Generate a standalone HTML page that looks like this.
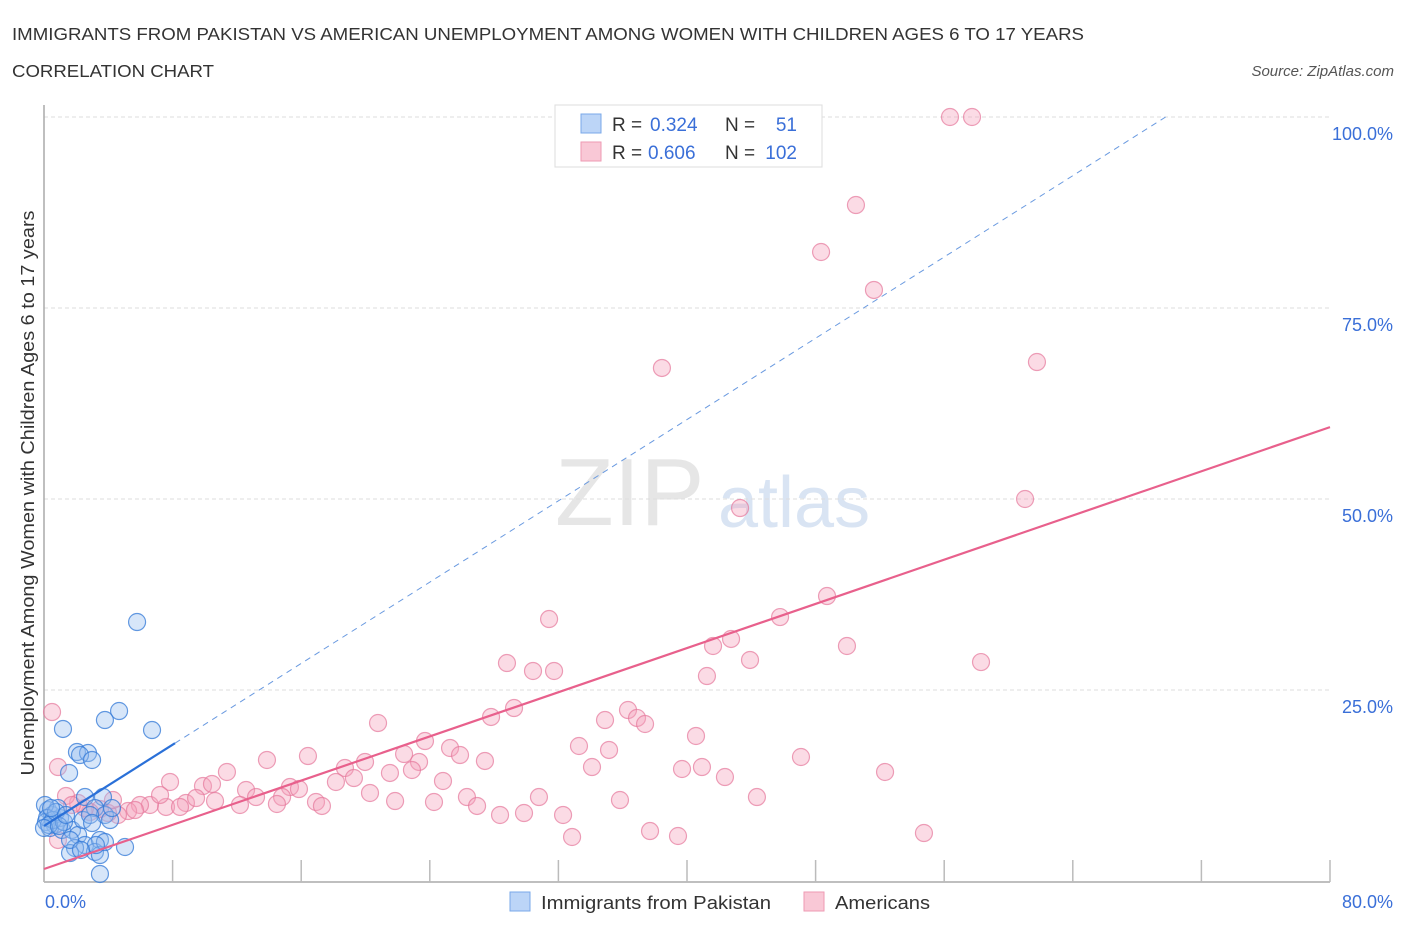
<!DOCTYPE html>
<html><head><meta charset="utf-8"><style>
body{margin:0;background:#fff;font-family:"Liberation Sans",sans-serif;}
svg text{font-family:"Liberation Sans",sans-serif;}
</style></head><body>
<svg id="chart" width="1406" height="930" xmlns="http://www.w3.org/2000/svg">
<text x="12" y="40" font-size="17.5" fill="#333" textLength="1072" lengthAdjust="spacingAndGlyphs">IMMIGRANTS FROM PAKISTAN VS AMERICAN UNEMPLOYMENT AMONG WOMEN WITH CHILDREN AGES 6 TO 17 YEARS</text>
<text x="12" y="77" font-size="17.5" fill="#333" textLength="202" lengthAdjust="spacingAndGlyphs">CORRELATION CHART</text>
<text x="1394" y="76" font-size="15" fill="#555" text-anchor="end" font-style="italic">Source: ZipAtlas.com</text>
<text x="555" y="525" font-size="96" fill="#e6e6e6" font-family="Liberation Serif">ZIP</text>
<text x="718" y="527" font-size="72" fill="#d9e4f3">atlas</text>
<g id="grid"></g>
<g id="axes"></g>
<g id="marks"></g>
<text transform="translate(34,493) rotate(-90)" font-size="18" fill="#333" text-anchor="middle" textLength="565" lengthAdjust="spacingAndGlyphs">Unemployment Among Women with Children Ages 6 to 17 years</text>
<text x="45" y="908" font-size="18" fill="#3a6fd8">0.0%</text>
<text x="1393" y="908" font-size="18" fill="#3a6fd8" text-anchor="end">80.0%</text>
<g>
<rect x="555" y="105" width="267" height="62" fill="#fff" stroke="#ddd"/>
<rect x="581" y="114" width="20" height="19" fill="#bcd5f7" stroke="#7aa8e8"/>
<rect x="581" y="142" width="20" height="19" fill="#f9c8d6" stroke="#ee9ab3"/>
<text x="612" y="131" font-size="19" fill="#333">R =</text>
<text x="650" y="131" font-size="19" fill="#3a6fd8">0.324</text>
<text x="725" y="131" font-size="19" fill="#333">N =</text>
<text x="797" y="131" font-size="19" fill="#3a6fd8" text-anchor="end">51</text>
<text x="612" y="159" font-size="19" fill="#333">R =</text>
<text x="648" y="159" font-size="19" fill="#3a6fd8">0.606</text>
<text x="725" y="159" font-size="19" fill="#333">N =</text>
<text x="797" y="159" font-size="19" fill="#3a6fd8" text-anchor="end">102</text>
</g>
<g>
<rect x="510" y="892" width="20" height="19" fill="#bcd5f7" stroke="#7aa8e8"/>
<text x="541" y="909" font-size="18" fill="#333" textLength="230" lengthAdjust="spacingAndGlyphs">Immigrants from Pakistan</text>
<rect x="804" y="892" width="20" height="19" fill="#f9c8d6" stroke="#ee9ab3"/>
<text x="835" y="909" font-size="18" fill="#333" textLength="95" lengthAdjust="spacingAndGlyphs">Americans</text>
</g>
</svg>
<script>
const yTicks=[25,50,75,100];
const yTickLabels=["25.0%","50.0%","75.0%","100.0%"];
const xTicks=[0,8,16,24,32,40,48,56,64,72,80];
const bluePx=[[137,622],[119,711],[105,720],[63,729],[152,730],[77,752],[88,753],[80,755],[92,760],[69,773],[103,797],[85,797],[48,810],[52,815],[46,822],[55,825],[60,818],[50,828],[58,808],[62,830],[45,805],[95,808],[105,815],[110,820],[72,830],[78,835],[85,845],[100,840],[75,848],[70,853],[95,852],[100,855],[105,842],[125,847],[100,874],[83,820],[90,815],[70,840],[47,818],[53,820],[49,825],[56,812],[64,822],[44,828],[51,808],[59,826],[66,815],[92,823],[112,808],[96,845],[81,850]];
const pinkPx=[[950,117],[972,117],[856,205],[821,252],[874,290],[662,368],[1037,362],[1025,499],[740,508],[827,596],[549,619],[780,617],[731,639],[713,646],[847,646],[507,663],[533,671],[554,671],[750,660],[981,662],[707,676],[514,708],[491,717],[628,710],[605,720],[637,718],[645,724],[378,723],[52,712],[425,741],[579,746],[609,750],[696,736],[450,748],[460,755],[308,756],[267,760],[404,754],[365,762],[419,762],[345,768],[485,761],[801,757],[592,767],[682,769],[702,767],[725,777],[885,772],[58,767],[390,773],[412,770],[354,778],[443,781],[227,772],[336,782],[203,786],[212,784],[170,782],[246,790],[290,787],[299,789],[256,797],[316,802],[282,797],[370,793],[467,797],[539,797],[757,797],[620,800],[395,801],[434,802],[186,803],[215,801],[240,805],[166,807],[180,807],[150,805],[140,805],[128,811],[118,815],[108,813],[100,809],[90,812],[78,803],[66,796],[85,808],[135,810],[477,806],[500,815],[524,813],[563,815],[277,804],[322,806],[650,831],[678,836],[924,833],[572,837],[58,840],[72,805],[113,800],[160,795],[196,798]];
const blueX=bluePx.map(p=>+((p[0]-44)/16.075).toFixed(2));
const blueY=bluePx.map(p=>+((881-p[1])/7.64).toFixed(2));
const pinkX=pinkPx.map(p=>+((p[0]-44)/16.075).toFixed(2));
const pinkY=pinkPx.map(p=>+((881-p[1])/7.64).toFixed(2));
const blueTrend=[7.2,1.33];
const pinkTrend=[1.57,0.723];
const NS="http://www.w3.org/2000/svg";
const X=v=>44+v*16.075, Y=v=>881-v*7.64;
function mk(tag,attrs,parent){const e=document.createElementNS(NS,tag);for(const k in attrs)e.setAttribute(k,attrs[k]);document.getElementById(parent).appendChild(e);return e;}
yTicks.forEach((t,i)=>{
 const g=mk('line',{x1:44,x2:1330,y1:Y(t),y2:Y(t),stroke:'#ddd','stroke-dasharray':'4,3'},'grid');
 
 
 const l=mk('text',{x:1393,y:Y(t)+23,'font-size':18,fill:'#3a6fd8','text-anchor':'end'},'axes');
 l.textContent=yTickLabels[i];
 
 
});
const ya=mk('line',{x1:44,x2:44,y1:105,y2:882,stroke:'#aaa','stroke-width':1.5},'axes');


const xa=mk('line',{x1:44,x2:1330,y1:882,y2:882,stroke:'#aaa','stroke-width':1.5},'axes');


xTicks.forEach(t=>{
 const k=mk('line',{x1:X(t),x2:X(t),y1:860,y2:882,stroke:'#bbb','stroke-width':1.5},'axes');
 
 
});
pinkX.forEach((x,i)=>{
 const c=mk('circle',{cx:X(x),cy:Y(pinkY[i]),r:8.5,fill:'rgba(244,160,186,0.38)',stroke:'rgba(230,120,155,0.7)','stroke-width':1.2},'marks');
 
 
});
blueX.forEach((x,i)=>{
 const c=mk('circle',{cx:X(x),cy:Y(blueY[i]),r:8.5,fill:'rgba(150,190,240,0.38)',stroke:'rgba(50,120,215,0.75)','stroke-width':1.2},'marks');
 
 
});
const pl=mk('line',{x1:X(0),y1:Y(pinkTrend[0]),x2:X(80),y2:Y(pinkTrend[0]+pinkTrend[1]*80),stroke:'#e8608c','stroke-width':2.2},'marks');


const xe=(100-blueTrend[0])/blueTrend[1];
const bd=mk('line',{x1:X(8.15),y1:Y(blueTrend[0]+blueTrend[1]*8.15),x2:X(xe),y2:Y(100),stroke:'#6a9ae0','stroke-width':1,'stroke-dasharray':'6,5'},'marks');


const bl=mk('line',{x1:X(0),y1:Y(blueTrend[0]),x2:X(8.15),y2:Y(blueTrend[0]+blueTrend[1]*8.15),stroke:'#2a70d8','stroke-width':2.2},'marks');


</script>
</body></html>
